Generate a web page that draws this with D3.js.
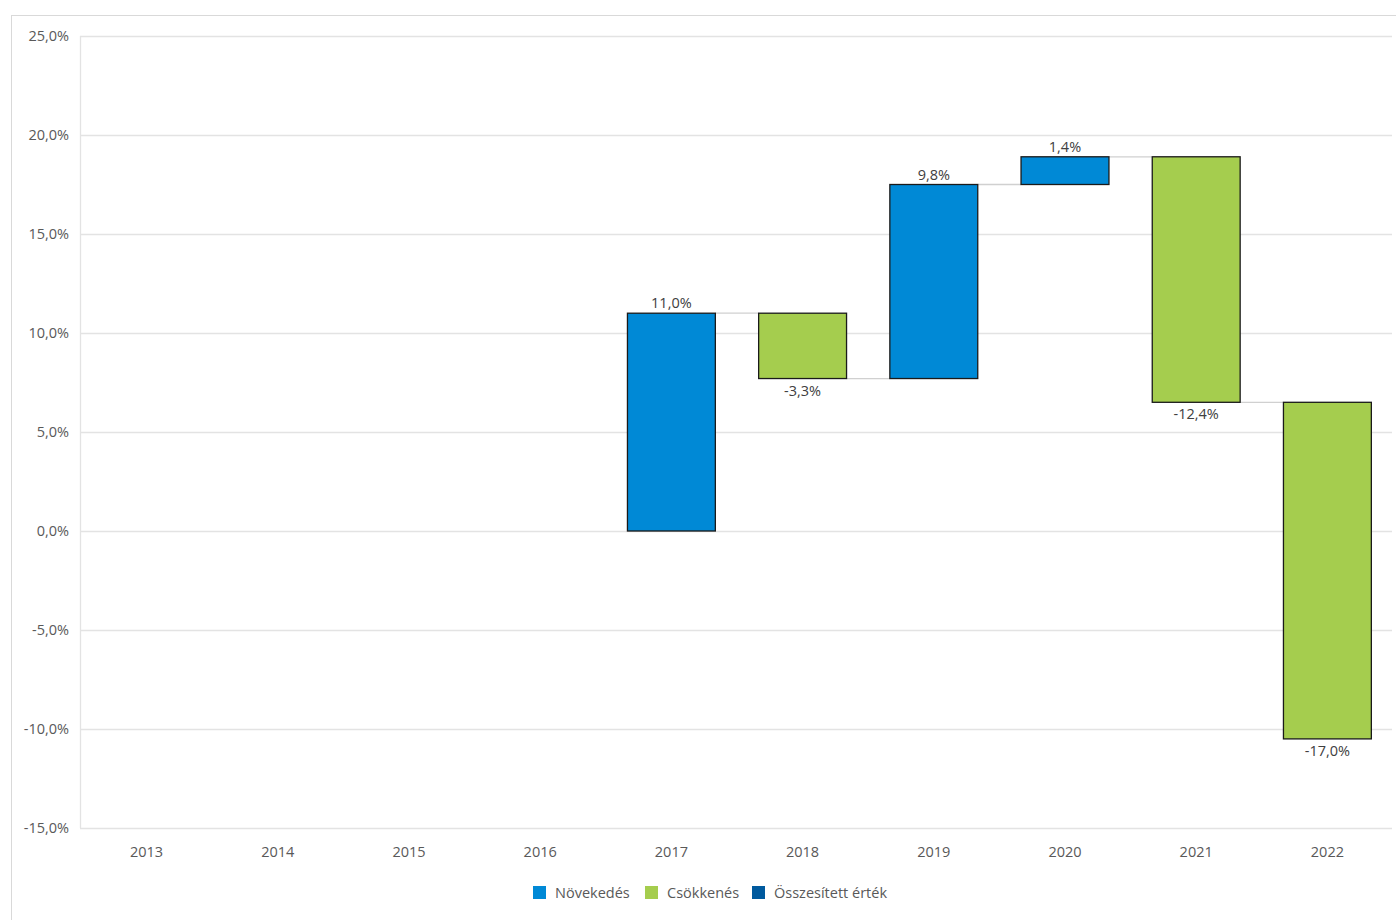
<!DOCTYPE html>
<html><head><meta charset="utf-8">
<script src="https://cdn.jsdelivr.net/npm/d3@7"></script>
<style>body{margin:0;background:#fff;font-family:"Open Sans","Noto Sans",sans-serif;}</style>
</head><body><svg id="c" width="1396" height="920"></svg>
<script>
const categories = ["2013","2014","2015","2016","2017","2018","2019","2020","2021","2022"];
const changes = [0,0,0,0,11.0,-3.3,9.8,1.4,-12.4,-17.0];
const yTicks = [-15,-10,-5,0,5,10,15,20,25];
const legendItems = ["Növekedés","Csökkenés","Összesített érték"];
const colors = {up:"#0089D6", down:"#A5CD4E", total:"#005A9E"};

const svg = d3.select("#c");
const m = {l:80,r:1392,t:36,b:828};
const x = d3.scaleBand().domain(categories).range([m.l+1,m.r+1]).paddingInner(0.33).paddingOuter(0.165);
const y = d3.scaleLinear().domain([-15,25]).range([m.b,m.t]);
const fmt = v => (v.toFixed(1)+"%").replace(".",",");

svg.append("rect").attr("x",11.5).attr("y",15.5).attr("width",1400).attr("height",920).attr("fill","none").attr("stroke","#d9d9d9");

svg.append("g").selectAll("line").data(yTicks).join("line")
 .attr("x1",m.l).attr("x2",m.r).attr("y1",d=>y(d)+0.5).attr("y2",d=>y(d)+0.5)
 .attr("stroke","#e3e3e3").attr("stroke-width",1.3);
svg.append("line").attr("x1",m.l+0.5).attr("x2",m.l+0.5).attr("y1",m.t).attr("y2",m.b).attr("stroke","#e3e3e3").attr("stroke-width",1.3);

svg.append("g").selectAll("text").data(yTicks).join("text")
 .attr("x",69).attr("y",d=>y(d)+5).attr("text-anchor","end").attr("font-size",14.5).attr("fill","#595959").text(fmt);
svg.append("g").selectAll("text").data(categories).join("text")
 .attr("x",d=>x(d)+x.bandwidth()/2).attr("y",857).attr("text-anchor","middle").attr("font-size",14.5).attr("fill","#595959").text(d=>d);

let cum = 0;
const bars = changes.map((v,i)=>{const s=cum; cum+=v; return {cat:categories[i],v,start:s,end:cum};});
const conns = bars.slice(0,-1).map((b,i)=>({b,n:bars[i+1]})).filter(d=>d.b.v!==0);
svg.append("g").selectAll("line").data(conns).join("line")
 .attr("x1",d=>x(d.b.cat)+x.bandwidth()).attr("x2",d=>x(d.n.cat))
 .attr("y1",d=>y(d.b.end)).attr("y2",d=>y(d.b.end))
 .attr("stroke","#d0d0d0").attr("stroke-width",1.3);

const bd = bars.filter(b=>b.v!==0);
svg.append("g").selectAll("rect").data(bd).join("rect")
 .attr("x",d=>x(d.cat)).attr("width",x.bandwidth())
 .attr("y",d=>y(Math.max(d.start,d.end))).attr("height",d=>Math.abs(y(d.start)-y(d.end)))
 .attr("fill",d=>d.v>0?colors.up:colors.down).attr("stroke","#1a1a1a").attr("stroke-width",1.3);

svg.append("g").selectAll("text").data(bd).join("text")
 .attr("x",d=>x(d.cat)+x.bandwidth()/2)
 .attr("y",d=>d.v>0?y(d.end)-5:y(d.end)+17)
 .attr("text-anchor","middle").attr("font-size",14.5).attr("fill","#404040").text(d=>fmt(d.v));

const lc = [colors.up,colors.down,colors.total];
const lx = [533,645,752];
const lg = svg.append("g");
legendItems.forEach((t,i)=>{
  lg.append("rect").attr("x",lx[i]).attr("y",886).attr("width",13).attr("height",13).attr("fill",lc[i]);
  lg.append("text").attr("x",lx[i]+22).attr("y",898).attr("font-size",14.5).attr("fill","#595959").text(t);
});
</script></body></html>
